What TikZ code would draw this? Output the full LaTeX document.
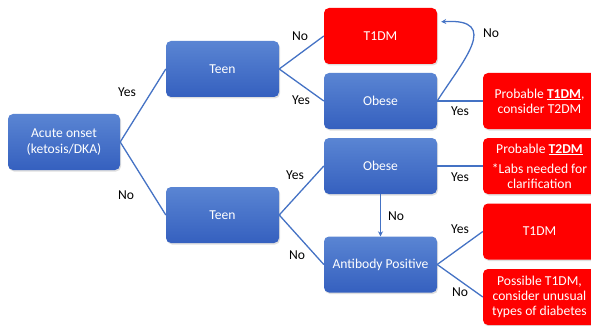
\documentclass[tikz,border=0pt]{standalone}
\usepackage{fontspec}
\setmainfont{Carlito}
\usetikzlibrary{shadows,arrows.meta,calc}
\definecolor{bluetop}{HTML}{5A85D3}
\definecolor{bluebot}{HTML}{3560BF}
\definecolor{conn}{HTML}{4472C4}
\tikzset{
  bluebox/.style={rounded corners=5pt, minimum width=113pt, minimum height=56pt,
    top color=bluetop, bottom color=bluebot, draw=none, text=white, align=center,
    font=\fontsize{13.6}{15}\selectfont, drop shadow={shadow xshift=1pt, shadow yshift=-1.5pt, opacity=0.25}},
  redbox/.style={rounded corners=5pt, minimum width=113pt, minimum height=56pt,
    fill=red, draw=none, text=white, align=center,
    font=\fontsize{13.6}{15}\selectfont, drop shadow={shadow xshift=1pt, shadow yshift=-1.5pt, opacity=0.25}},
  conline/.style={draw=conn, line width=1.3pt},
  lbl/.style={font=\fontsize{13.6}{15}\selectfont, text=black, inner sep=0pt}
}
\begin{document}
\begin{tikzpicture}[x=1pt,y=-1pt]
\useasboundingbox (0,0) rectangle (591,326);
\node[bluebox, minimum width=112pt, font=\fontsize{13.6}{16.5}\selectfont] (acute) at (64,142) {Acute onset\\(ketosis/DKA)};
\node[bluebox] (teen1) at (222.5,69) {Teen};
\node[bluebox] (teen2) at (222.5,215) {Teen};
\node[redbox] (t1a) at (380.5,36) {T1DM};
\node[bluebox] (ob1) at (380.5,101) {Obese};
\node[bluebox] (ob2) at (380.5,166) {Obese};
\node[bluebox] (ab) at (380.5,264.5) {Antibody Positive};
\node[redbox] (pt1) at (539.5,101) {Probable \underline{\textbf{T1DM}},\\consider T2DM};
\node[redbox] (pt2) at (539.5,166) {Probable \underline{\textbf{T2DM}}\\[5pt]*Labs needed for\\clarification};
\node[redbox] (t1b) at (539.5,231.5) {T1DM};
\node[redbox] (pos) at (539.5,297) {Possible T1DM,\\consider unusual\\types of diabetes};

\draw[conline] (acute.east) -- (teen1.west);
\draw[conline] (acute.east) -- (teen2.west);
\draw[conline] (teen1.east) -- (t1a.west);
\draw[conline] (teen1.east) -- (ob1.west);
\draw[conline] (ob1.east) -- (pt1.west);
\draw[conline] (teen2.east) -- (ob2.west);
\draw[conline] (teen2.east) -- (ab.west);
\draw[conline] (ob2.east) -- (pt2.west);
\draw[conline] (ab.east) -- (t1b.west);
\draw[conline] (ab.east) -- (pos.west);
\draw[conline, -{Stealth[length=5pt,width=5pt]}] (ob2.south) -- (ab.north);
\coordinate (loopend) at ($(t1a.north east)+(4,14)$);
\draw[conline, -{Stealth[length=5pt,width=5pt]}] (ob1.east) .. controls (462,62) and (502,18) .. (loopend);

\node[lbl] at (127,92) {Yes};
\node[lbl] at (126,195) {No};
\node[lbl] at (300,36) {No};
\node[lbl] at (301,100) {Yes};
\node[lbl] at (491,33) {No};
\node[lbl] at (460,111) {Yes};
\node[lbl] at (295,175) {Yes};
\node[lbl] at (396,216) {No};
\node[lbl] at (460,177) {Yes};
\node[lbl] at (297,255) {No};
\node[lbl] at (460,229) {Yes};
\node[lbl] at (460,292) {No};
\end{tikzpicture}
\end{document}
